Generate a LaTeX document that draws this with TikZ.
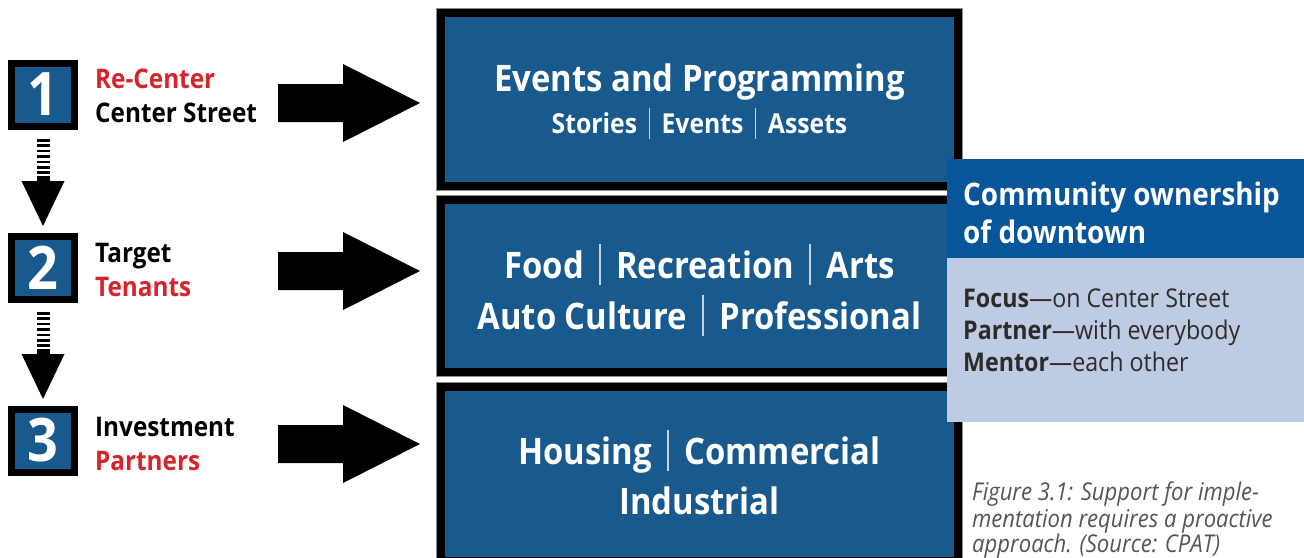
\documentclass[tikz,border=0pt]{standalone}
\usepackage{fontspec}
\setmainfont{Open Sans}[FakeStretch=0.9]
\usetikzlibrary{calc}

\definecolor{boxblue}{HTML}{18598E}
\definecolor{headblue}{HTML}{08559A}
\definecolor{paleblue}{HTML}{BFCBE3}
\definecolor{accentred}{HTML}{D8232A}
\definecolor{bodyink}{HTML}{2B2B2B}
\definecolor{captink}{HTML}{555555}
\definecolor{sepgray}{HTML}{C9D3DE}

% thin vertical divider between items
\newcommand\sepbar{\hspace{0.42em}\textcolor{sepgray}{\rule[-0.2em]{0.05em}{1.12em}}\hspace{0.42em}}

\tikzset{
  stepsq/.style={draw=black, line width=7pt, fill=boxblue, minimum size=63pt,
    inner sep=0, text=white, font=\fontsize{60}{62}\selectfont\bfseries},
  bigbox/.style={draw=black, line width=8pt, fill=boxblue, inner sep=0,
    preaction={draw=black!45, line width=10pt}},
  lbl/.style={anchor=base west, inner sep=0, font=\fontsize{27}{30}\selectfont\bfseries},
  headtxt/.style={anchor=base, inner sep=0, text=white, font=\fontsize{36.5}{40}\selectfont\bfseries},
  subtxt/.style={anchor=base, inner sep=0, text=white, font=\fontsize{27.5}{30}\selectfont\bfseries},
  paneltitle/.style={anchor=base west, inner sep=0, text=white, font=\fontsize{31}{34}\selectfont\bfseries},
  panelbody/.style={anchor=base west, inner sep=0, text=bodyink, font=\fontsize{25.8}{30}\selectfont},
  capline/.style={anchor=base west, inner sep=0, text=captink, font=\fontsize{24.5}{27}\selectfont\itshape},
  bigarrow/.pic={\fill (-142,-19) -- (-77,-19) -- (-77,-39) -- (0,0) -- (-77,39) -- (-77,19) -- (-142,19) -- cycle;}
}

\begin{document}
\begin{tikzpicture}[x=1pt, y=-1pt]
\useasboundingbox (0,0) rectangle (1304,557);
\fill[white] (0,0) rectangle (1304,557);

% --- numbered steps -------------------------------------------------
\node[stepsq] (sq1) at (43,94.5) {1};
\node[stepsq] (sq2) at (43,267.5) {2};
\node[stepsq] (sq3) at (43,440.5) {3};

\node[lbl, text=accentred] (l1a) at (95,88) {Re-Center};
\node[lbl] (l1b) at (95,122) {Center Street};
\node[lbl] (l2a) at (95,262) {Target};
\node[lbl, text=accentred] (l2b) at (95,296) {Tenants};
\node[lbl] (l3a) at (95,436) {Investment};
\node[lbl, text=accentred] (l3b) at (95,470) {Partners};

% striped down arrows between the steps
\foreach \a/\b in {sq1/sq2, sq2/sq3}{
  \coordinate (ds) at ($(\a.south)+(0,9.5)$);
  \coordinate (de) at ($(\b.north)+(0,-6.5)$);
  \draw[line width=13pt, dash pattern=on 2.6pt off 2.8pt] (ds) -- ++(0,37);
  \fill ($(ds)+(-6.5,36.5)$) rectangle ($(de)+(6.5,-45)$);
  \fill ($(de)+(-21.5,-45)$) -- (de) -- ($(de)+(21.5,-45)$) -- cycle;
}

% --- big blue boxes --------------------------------------------------
\node[bigbox, minimum width=517pt, minimum height=173pt] (bA) at (699.5,99.5) {};
\node[bigbox, minimum width=517pt, minimum height=172pt] (bB) at (699.5,286) {};
\node[bigbox, minimum width=517pt, minimum height=174pt] (bC) at (699.5,474) {};

\node[headtxt] (tA1) at (699.5,91) {Events and Programming};
\node[subtxt] (tA2) at (699.5,133) {Stories\sepbar Events\sepbar Assets};
\node[headtxt] (tB1) at (699.5,278) {Food\sepbar Recreation\sepbar Arts};
\node[headtxt] (tB2) at (699.5,329) {Auto Culture\sepbar Professional};
\node[headtxt] (tC1) at (699.5,464) {Housing\sepbar Commercial};
\node[headtxt] (tC2) at (699.5,514) {Industrial};

% block arrows from each step to its box
\coordinate (k1) at (420,103);
\coordinate (k2) at (420,271);
\coordinate (k3) at (420,444);
\pic at (k1) {bigarrow};
\pic at (k2) {bigarrow};
\pic at (k3) {bigarrow};

% --- side panel ------------------------------------------------------
\fill[headblue] (947,159) rectangle (1304,258);
\fill[paleblue] (947,258) rectangle (1304,422);
\node[paneltitle] (p1) at (963,205) {Community ownership};
\node[paneltitle] (p2) at (963,243) {of downtown};
\node[panelbody] (p3) at (963,307) {\textbf{Focus}---on Center Street};
\node[panelbody] (p4) at (963,339) {\textbf{Partner}---with everybody};
\node[panelbody] (p5) at (963,371) {\textbf{Mentor}---each other};

% --- caption ---------------------------------------------------------
\node[capline] (c1) at (972,500) {Figure 3.1: Support for imple-};
\node[capline] (c2) at (972,527) {mentation requires a proactive};
\node[capline] (c3) at (972,552) {approach. (Source: CPAT)};
\end{tikzpicture}
\end{document}
